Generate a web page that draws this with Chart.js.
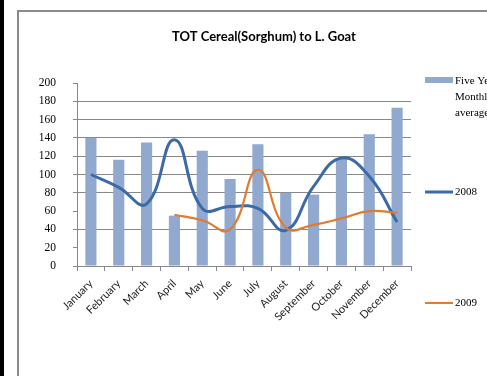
<!DOCTYPE html>
<html><head><meta charset="utf-8">
<script src="https://cdn.jsdelivr.net/npm/chart.js@4/dist/chart.umd.min.js"></script>
<style>
html,body{margin:0;padding:0;background:#fff;overflow:hidden}
canvas{display:block}
</style></head><body>
<canvas id="c" width="487" height="376"></canvas>
<script>
const chartTitle = 'TOT Cereal(Sorghum) to L. Goat';
const months = ['January','February','March','April','May','June','July','August','September','October','November','December'];
const fiveYearAvg = [140,116,135,55,126,95,133,80,78,117,144,173];
const series2008 = [100,86,68,138,63,65,63,39,87,118,98,48];
const series2009 = [null,null,null,56,50,40,105,42,45,52,60,58];
const yMin = 0, yMax = 200, yStep = 20;
const hiddenGridValues = [200,60,20];
const legendText = [['Five Year','Monthly','average'],['2008'],['2009']];

const barColor = '#91A8CF', c2008 = '#3C6AA6', c2009 = '#E07B30';

const framePlugin = {
  id:'frame',
  beforeDraw(chart){
    const ctx = chart.ctx;
    ctx.save();
    ctx.fillStyle = '#fff'; ctx.fillRect(0,0,chart.width,chart.height);
    ctx.fillStyle = '#000'; ctx.fillRect(0,0,4,chart.height);
    ctx.strokeStyle = '#8a8a8a'; ctx.lineWidth = 2;
    ctx.beginPath(); ctx.moveTo(18,chart.height+5); ctx.lineTo(18,11); ctx.lineTo(chart.width+5,11); ctx.stroke();
    ctx.restore();
  },
  afterDraw(chart){
    const ctx = chart.ctx;
    ctx.save();
    ctx.fillStyle = '#000';
    ctx.font = 'bold 13px Lato';
    ctx.textAlign = 'center'; ctx.textBaseline = 'middle';
    ctx.fillText(chartTitle, 264, 37);
    // legend
    ctx.font = '11px "Liberation Serif"';
    ctx.textAlign = 'left';
    ctx.fillStyle = barColor; ctx.fillRect(425,77,28,6);
    ctx.fillStyle = '#000';
    legendText[0].forEach((t,i)=>ctx.fillText(t,455,81+i*16));
    ctx.strokeStyle = c2008; ctx.lineWidth = 3;
    ctx.beginPath(); ctx.moveTo(425,192); ctx.lineTo(453,192); ctx.stroke();
    ctx.fillText(legendText[1][0],455,192);
    ctx.strokeStyle = c2009; ctx.lineWidth = 2;
    ctx.beginPath(); ctx.moveTo(425,303); ctx.lineTo(453,303); ctx.stroke();
    ctx.fillText(legendText[2][0],455,303);
    ctx.restore();
  }
};

new Chart(document.getElementById('c'), {
  type:'bar',
  data:{
    labels: months,
    datasets:[
      {type:'line', label:'2009', data:series2009, borderColor:c2009, borderWidth:2.2, pointRadius:0, tension:0.45, order:0, fill:false},
      {type:'line', label:'2008', data:series2008, borderColor:c2008, borderWidth:3, pointRadius:0, tension:0.45, order:1, fill:false},
      {type:'bar', label:'Five Year Monthly average', data:fiveYearAvg, backgroundColor:barColor, barPercentage:0.4, categoryPercentage:1, order:2}
    ]
  },
  options:{
    responsive:false, animation:false, devicePixelRatio:1,
    layout:{padding:{left:17, top:83, right:76, bottom:0}},
    plugins:{legend:{display:false}, title:{display:false}, tooltip:{enabled:false}},
    scales:{
      x:{
        grid:{drawOnChartArea:false, drawTicks:true, tickLength:5, color:'#888', offset:true},
        border:{color:'#888', width:1},
        ticks:{minRotation:45, maxRotation:45, autoSkip:false, font:{family:'Lato', size:11}, color:'#222', padding:6},
        afterFit(s){ s.height = 110; }
      },
      y:{
        min:yMin, max:yMax,
        ticks:{stepSize:yStep, font:{family:'Liberation Serif', size:11.5}, color:'#000', padding:17},
        grid:{color:(c)=> hiddenGridValues.includes(c.tick && c.tick.value) ? 'rgba(0,0,0,0)' : '#888', tickColor:'#888', tickLength:4, lineWidth:1},
        border:{color:'#888', width:1},
        afterFit(s){ s.width = 60; }
      }
    }
  },
  plugins:[framePlugin]
});
</script>
</body></html>
